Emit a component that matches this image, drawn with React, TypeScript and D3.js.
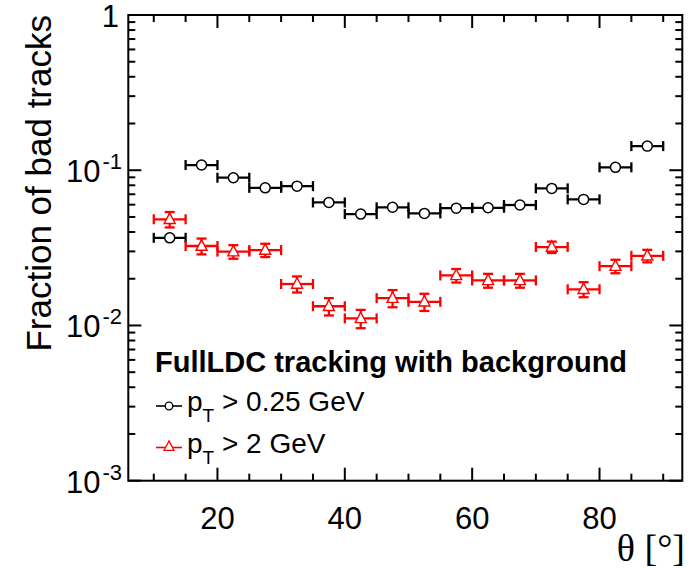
import React from "react";
import * as d3 from "d3";

// ---- data ----
const binCenters = [12.5, 17.5, 22.5, 27.5, 32.5, 37.5, 42.5, 47.5, 52.5, 57.5, 62.5, 67.5, 72.5, 77.5, 82.5, 87.5];
const binHalfWidth = 2.5;
const lowPtFrac = [0.0367, 0.108, 0.0895, 0.077, 0.079, 0.062, 0.0522, 0.0577, 0.0527, 0.057, 0.0573, 0.0597, 0.0764, 0.0649, 0.1044, 0.143];
const highPtFrac = [0.0483, 0.0325, 0.0299, 0.0306, 0.0185, 0.0133, 0.0111, 0.0150, 0.0142, 0.0210, 0.0195, 0.0195, 0.0320, 0.0171, 0.0241, 0.0281];
const highPtErr = [0.0055, 0.0038, 0.0030, 0.0030, 0.0022, 0.0017, 0.0015, 0.0019, 0.0018, 0.0021, 0.0020, 0.0020, 0.0027, 0.0019, 0.0024, 0.0026];
const xMajorTicks = [20, 40, 60, 80];
const xMinorTicks = [10, 15, 25, 30, 35, 45, 50, 55, 65, 70, 75, 85, 90];
const yMajorTicks = [1e-3, 1e-2, 1e-1, 1];
const yTickExponents = ["-3", "-2", "-1", ""];
const legendTitle = "FullLDC tracking with background";
const legendLabels = [
  { cut: " > 0.25 GeV", color: "#000000", marker: "circle" },
  { cut: " > 2 GeV", color: "#ff0000", marker: "triangle" },
];

const W = 691;
const H = 568;
const left = 128.3, right = 682.3, top = 15, bottom = 480.7;

export default function App() {
  const x = d3.scaleLinear().domain([6, 93]).range([left, right]);
  const y = d3.scaleLog().domain([1e-3, 1]).range([bottom, top]);

  const yMinor: number[] = [];
  [1e-3, 1e-2, 1e-1].forEach((d) => {
    for (let k = 2; k <= 9; k++) yMinor.push(d * k);
  });

  const sans = "'Liberation Sans', Arial, Helvetica, sans-serif";
  const triPath = (cx: number, cy: number, s: number) =>
    `M${cx},${cy - s * 0.62} L${cx + s * 0.55},${cy + s * 0.42} L${cx - s * 0.55},${cy + s * 0.42} Z`;

  const series = [
    { values: lowPtFrac, errs: null as number[] | null, color: "#000000", marker: "circle" },
    { values: highPtFrac, errs: highPtErr, color: "#ff0000", marker: "triangle" },
  ];

  const capH = 5;
  const lw = 2.3;

  return (
    <svg width={W} height={H} style={{ position: "absolute", left: 0, top: 0, background: "#fff" }}>
      <rect x={0} y={0} width={W} height={H} fill="#fff" />
      {/* data */}
      {series.map((s, si) => (
        <g key={si} stroke={s.color} strokeWidth={lw} fill="none">
          {binCenters.map((c, i) => {
            const cx = x(c);
            const cy = y(s.values[i]);
            const x0 = x(c - binHalfWidth);
            const x1 = x(c + binHalfWidth);
            const items: React.ReactNode[] = [];
            items.push(<line key="h" x1={x0} x2={x1} y1={cy} y2={cy} />);
            items.push(<line key="c0" x1={x0} x2={x0} y1={cy - capH} y2={cy + capH} />);
            items.push(<line key="c1" x1={x1} x2={x1} y1={cy - capH} y2={cy + capH} />);
            if (s.errs) {
              const yt = y(s.values[i] + s.errs[i]);
              const yb = y(s.values[i] - s.errs[i]);
              items.push(<line key="v" x1={cx} x2={cx} y1={yt} y2={yb} />);
              items.push(<line key="vt" x1={cx - 5} x2={cx + 5} y1={yt} y2={yt} />);
              items.push(<line key="vb" x1={cx - 5} x2={cx + 5} y1={yb} y2={yb} />);
            }
            if (s.marker === "circle") {
              items.push(<circle key="m" cx={cx} cy={cy} r={5} fill="#fff" stroke={s.color} strokeWidth={1.5} />);
            } else {
              items.push(<path key="m" d={triPath(cx, cy, 10)} fill="#fff" stroke={s.color} strokeWidth={1.4} />);
            }
            return <g key={i}>{items}</g>;
          })}
        </g>
      ))}

      {/* frame */}
      <rect x={left} y={top} width={right - left} height={bottom - top} fill="none" stroke="#000" strokeWidth={2} />
      {/* ticks */}
      <g stroke="#000" strokeWidth={2}>
        {xMajorTicks.map((t) => (
          <g key={"xM" + t}>
            <line x1={x(t)} x2={x(t)} y1={bottom} y2={bottom - 13} />
            <line x1={x(t)} x2={x(t)} y1={top} y2={top + 13} />
          </g>
        ))}
        {xMinorTicks.map((t) => (
          <g key={"xm" + t}>
            <line x1={x(t)} x2={x(t)} y1={bottom} y2={bottom - 7} />
            <line x1={x(t)} x2={x(t)} y1={top} y2={top + 7} />
          </g>
        ))}
        {yMajorTicks.map((t) => (
          <g key={"yM" + t}>
            <line x1={left} x2={left + 13} y1={y(t)} y2={y(t)} />
            <line x1={right} x2={right - 13} y1={y(t)} y2={y(t)} />
          </g>
        ))}
        {yMinor.map((t) => (
          <g key={"ym" + t}>
            <line x1={left} x2={left + 7} y1={y(t)} y2={y(t)} />
            <line x1={right} x2={right - 7} y1={y(t)} y2={y(t)} />
          </g>
        ))}
      </g>

      {/* x tick labels */}
      <g fontFamily={sans} fontSize={31} fill="#000" textAnchor="middle">
        {xMajorTicks.map((t) => (
          <text key={"xl" + t} x={x(t)} y={529}>
            {t}
          </text>
        ))}
      </g>
      {/* y tick labels */}
      <g fontFamily={sans} fontSize={31} fill="#000" textAnchor="end">
        {yMajorTicks.map((t, i) =>
          yTickExponents[i] === "" ? (
            <text key={"yl" + t} x={119} y={y(t) + 12}>
              1
            </text>
          ) : (
            <text key={"yl" + t} x={122} y={y(t) + 12}>
              10
              <tspan fontSize={22} dx={2} dy={-13}>
                {yTickExponents[i]}
              </tspan>
            </text>
          )
        )}
      </g>

      {/* axis titles */}
      <text
        fontFamily={sans}
        fontSize={35}
        textAnchor="end"
        transform={`translate(51,${top}) rotate(-90)`}
      >
        Fraction of bad tracks
      </text>
      <text fontFamily="'Liberation Serif', 'Times New Roman', serif" fontSize={38} textAnchor="end" x={685} y={561}>
        θ [°]
      </text>

      {/* legend */}
      <text fontFamily={sans} fontSize={29} fontWeight="bold" x={155} y={372}>
        {legendTitle}
      </text>
      {legendLabels.map((l, i) => {
        const ly = 406 + i * 41.5;
        return (
          <g key={"lg" + i}>
            <line x1={156} x2={182} y1={ly} y2={ly} stroke={l.color} strokeWidth={1.6} />
            {l.marker === "circle" ? (
              <circle cx={169} cy={ly} r={3.8} fill="#fff" stroke={l.color} strokeWidth={1.3} />
            ) : (
              <path d={triPath(169, ly - 1, 9)} fill="#fff" stroke={l.color} strokeWidth={1.3} />
            )}
            <text fontFamily={sans} fontSize={28} x={187} y={ly + 5}>
              p
              <tspan fontSize={19} dy={11}>
                T
              </tspan>
              <tspan dy={-11}>{l.cut}</tspan>
            </text>
          </g>
        );
      })}
    </svg>
  );
}
